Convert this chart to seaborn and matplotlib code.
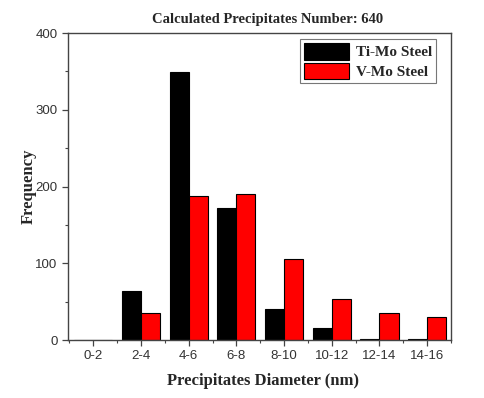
import pandas as pd
import matplotlib
matplotlib.use("Agg")
import matplotlib.pyplot as plt
import seaborn as sns
from matplotlib.ticker import MultipleLocator, FixedLocator

# data
bins = ["0-2", "2-4", "4-6", "6-8", "8-10", "10-12", "12-14", "14-16"]
ti_mo = [0, 64, 349, 172, 40, 15, 1, 1]
v_mo = [0, 35, 188, 190, 106, 54, 35, 30]
series = ["Ti-Mo Steel", "V-Mo Steel"]

df = pd.DataFrame({
    "Diameter": bins * 2,
    "Frequency": ti_mo + v_mo,
    "Steel": [series[0]] * len(bins) + [series[1]] * len(bins),
})

sns.set_theme(style="ticks")
plt.rcParams["font.family"] = ["Liberation Sans", "DejaVu Sans"]

fig = plt.figure(figsize=(4.84, 3.98), dpi=100)
ax = fig.add_axes([0.1405, 0.1457, 0.7913, 0.7713])

sns.barplot(data=df, x="Diameter", y="Frequency", hue="Steel", order=bins,
            palette=["black", "#ff0000"], saturation=1, edgecolor="black",
            linewidth=0.8, width=0.8, ax=ax)

ax.set_xlim(-0.53, 7.5)
ax.set_ylim(0, 400)
ax.yaxis.set_major_locator(MultipleLocator(100))
ax.yaxis.set_minor_locator(MultipleLocator(50))
ax.xaxis.set_minor_locator(FixedLocator([i + 0.5 for i in range(-1, 8)]))

for s in ax.spines.values():
    s.set_visible(True)
    s.set_color("#444444")
    s.set_linewidth(1.0)

ax.tick_params(axis="both", which="major", direction="out", length=4,
               color="#444444", labelsize=9.5, labelcolor="#333333", width=0.9)
ax.tick_params(axis="both", which="minor", direction="out", length=2.5,
               color="#444444", width=0.8)
ax.tick_params(top=False, right=False, which="both")

serif = ["Liberation Serif", "DejaVu Serif"]
ax.set_xlabel("Precipitates Diameter (nm)", fontsize=12, fontweight="bold",
              family=serif)
ax.set_ylabel("Frequency", fontsize=12, fontweight="bold", family=serif)
ax.xaxis.set_label_coords(0.51, -0.107)
ax.yaxis.set_label_coords(-0.081, 0.5)
ax.set_title("Calculated Precipitates Number: 640", fontsize=10.5,
             fontweight="bold", family=serif, pad=7, x=0.52)

leg = ax.legend(loc="upper right", bbox_to_anchor=(0.96, 0.98),
                frameon=True, fancybox=False,
                edgecolor="#555555", handlelength=3.0, handleheight=1.3,
                borderpad=0.25, labelspacing=0.2, handletextpad=0.4,
                borderaxespad=0.0,
                prop={"family": serif, "weight": "bold", "size": 11})
leg.get_frame().set_linewidth(0.8)

fig.savefig("out.png", dpi=100)
